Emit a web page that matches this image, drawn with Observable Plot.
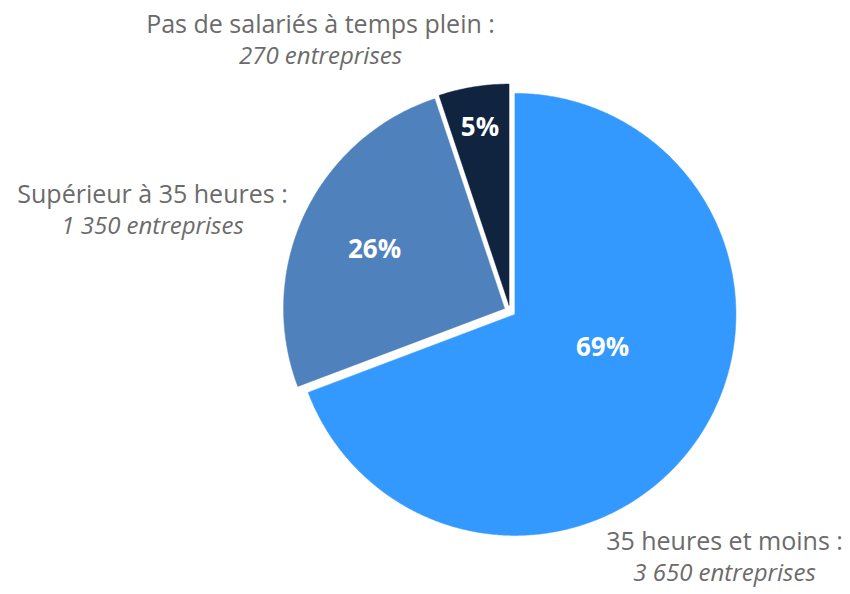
<!DOCTYPE html>
<html><head><meta charset="utf-8">
<script src="https://cdn.jsdelivr.net/npm/d3@7"></script>
<script src="https://cdn.jsdelivr.net/npm/@observablehq/plot@0.6"></script>
<style>
body{margin:0;background:#fff;}
#chart svg{display:block;}
</style></head>
<body><div id="chart"></div>
<script>
// ---- data ----
const categories = ["35 heures et moins", "Supérieur à 35 heures", "Pas de salariés à temps plein"];
const values = [3650, 1350, 270];
const valueLabels = ["3 650 entreprises", "1 350 entreprises", "270 entreprises"];
const colors = ["#3399FF", "#4F81BD", "#10243F"];

// ---- layout (pixels) ----
const W = 850, H = 594;
const CX = 509.5, CY = 310.5, R = 221, EXPLODE = 6;
// outer label centre positions (pixel), per category
const outerLabelPos = [[724, 541], [152, 194], [320, 24]];
// percentage label centre positions (pixel), per category
const pctLabelPos = [[602, 347], [374, 249], [479.5, 127]];

const toX = px => (px - CX) / R;
const toY = py => (CY - py) / R;

const total = d3.sum(values);
const arcs = d3.pie().sort(null).startAngle(0).endAngle(2 * Math.PI)(values);

const poly = [];
arcs.forEach((a, i) => {
  const mid = (a.startAngle + a.endAngle) / 2;
  const ox = Math.sin(mid) * EXPLODE / R, oy = Math.cos(mid) * EXPLODE / R;
  poly.push({cat: categories[i], x: ox, y: oy});
  const n = Math.max(8, Math.ceil((a.endAngle - a.startAngle) / (Math.PI / 360)));
  for (let k = 0; k <= n; k++) {
    const t = a.startAngle + (a.endAngle - a.startAngle) * k / n;
    poly.push({cat: categories[i], x: ox + Math.sin(t), y: oy + Math.cos(t)});
  }
  poly.push({cat: categories[i], x: ox, y: oy});
});

const labels = categories.map((c, i) => ({
  cat: c,
  title: c + " :",
  sub: valueLabels[i],
  pct: Math.round(values[i] / total * 100) + "%",
  lx: toX(outerLabelPos[i][0]), ly: toY(outerLabelPos[i][1]),
  px: toX(pctLabelPos[i][0]), py: toY(pctLabelPos[i][1])
}));

const chart = Plot.plot({
  width: W, height: H,
  margin: 0,
  x: {domain: [toX(0), toX(W)], axis: null},
  y: {domain: [toY(H), toY(0)], axis: null},
  color: {domain: categories, range: colors},
  style: {fontFamily: "'Open Sans', sans-serif", background: "#fff"},
  marks: [
    Plot.line(poly, {x: "x", y: "y", z: "cat", fill: "cat", stroke: "cat", strokeWidth: 0.5, curve: "linear"}),
    Plot.text(labels, {x: "px", y: "py", text: "pct", fill: "white", fontSize: 26, fontWeight: "bold"}),
    Plot.text(labels, {x: "lx", y: "ly", text: "title", fill: "#6b6b6b", fontSize: 25}),
    Plot.text(labels, {x: "lx", y: "ly", dy: 32, text: "sub", fill: "#6b6b6b", fontSize: 24, fontStyle: "italic"})
  ]
});
document.getElementById("chart").appendChild(chart);
</script>
</body></html>
